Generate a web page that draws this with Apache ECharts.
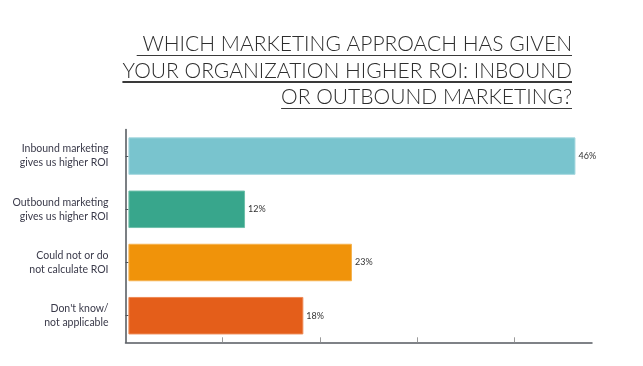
<!DOCTYPE html>
<html><head><meta charset="utf-8">
<script src="https://cdn.jsdelivr.net/npm/echarts@6/dist/echarts.min.js"></script>
<style>html,body{margin:0;padding:0;background:#fff}#c{width:643px;height:366px}</style>
</head><body><div id="c"></div>
<script>
const titleLines = [' WHICH MARKETING APPROACH HAS GIVEN', 'YOUR ORGANIZATION HIGHER ROI: INBOUND', 'OR OUTBOUND MARKETING?'];
const categories = ['Inbound marketing\ngives us higher ROI', 'Outbound marketing\ngives us higher ROI', 'Could not or do\nnot calculate ROI', "Don't know/\nnot applicable"];
const values = [46, 12, 23, 18];
const colors = ['#79C4CE', '#38A68C', '#F0930A', '#E45E1A'];
const borderColors = ['#A6D8DF', '#6EBFAA', '#F5B24F', '#EE8A55'];
const xTicks = [10, 20, 30, 40];

const chart = echarts.init(document.getElementById('c'), null, {renderer: 'canvas'});
const underline = new echarts.graphic.LinearGradient(0, 0, 0, 1, [
  {offset: 0, color: 'rgba(0,0,0,0)'},
  {offset: 0.895, color: 'rgba(0,0,0,0)'},
  {offset: 0.895, color: '#3a3a3a'},
  {offset: 0.95, color: '#3a3a3a'},
  {offset: 0.95, color: 'rgba(0,0,0,0)'},
  {offset: 1, color: 'rgba(0,0,0,0)'}
]);
chart.setOption({
  animation: false,
  graphic: [{
    type: 'text',
    right: 71,
    top: 31,
    style: {
      text: titleLines.map(t => '{u|' + t + '}').join('\n'),
      align: 'right',
      rich: {
        u: {fontFamily: 'Lato', fontSize: 21, fontWeight: 300, fill: '#2e2e2e', lineHeight: 26.5, height: 26.5, align: 'right', backgroundColor: underline}
      }
    }
  }],
  grid: {left: 125.5, right: 51, top: 129.5, bottom: 23.7, containLabel: false},
  xAxis: [{
    type: 'value', min: 0, max: 48,
    axisLine: {show: true, lineStyle: {color: '#555a60', width: 1.5}},
    axisTick: {show: true, inside: true, length: 5, customValues: xTicks, lineStyle: {color: '#9a9a9a', width: 1}},
    axisLabel: {show: false},
    splitLine: {show: false}
  }, {
    type: 'value', min: -0.3, max: 47.7, show: false,
    splitLine: {show: false}
  }],
  yAxis: {
    type: 'category', data: categories, inverse: true,
    axisLine: {show: true, lineStyle: {color: '#4f545a', width: 1.5}},
    axisTick: {show: true, inside: true, length: 3, alignWithLabel: true, lineStyle: {color: '#4f545a'}},
    axisLabel: {margin: 17, fontFamily: 'Lato', fontSize: 10.5, lineHeight: 14, color: '#3a3a4a', align: 'right'}
  },
  series: [{
    type: 'bar', xAxisIndex: 1,
    barWidth: 37.5,
    data: values.map((v, i) => ({value: v, itemStyle: {color: colors[i], borderColor: borderColors[i], borderWidth: 1}})),
    label: {show: true, position: 'right', distance: 3, formatter: '{c}%', fontFamily: 'Lato', fontSize: 9, color: '#333'}
  }]
});
</script></body></html>
